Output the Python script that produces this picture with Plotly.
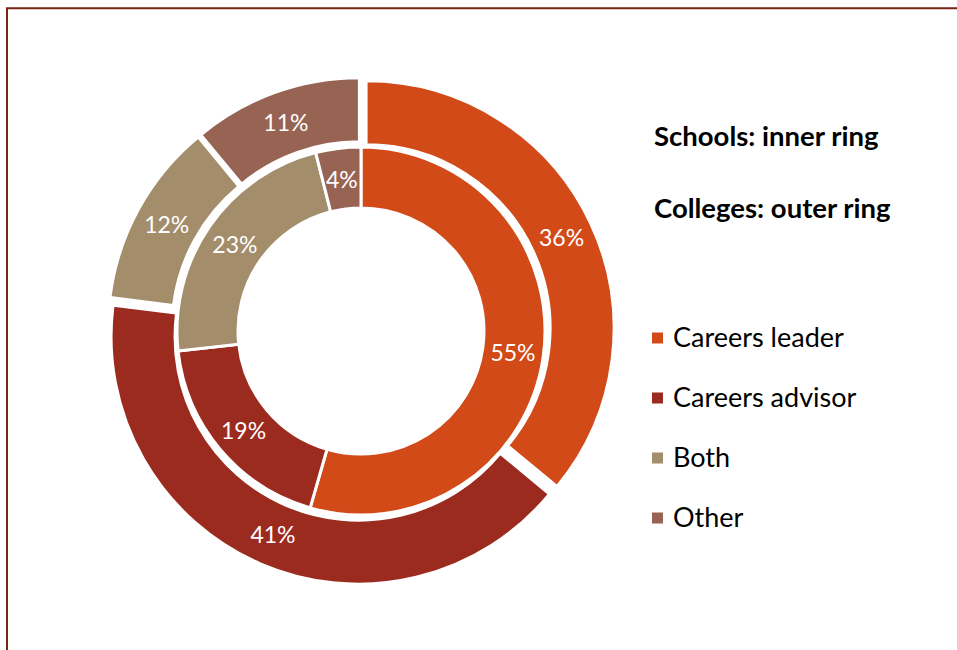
import math
import plotly.graph_objects as go

# Share of respondents by role
categories = ["Careers leader", "Careers advisor", "Both", "Other"]
schools_pct = [55, 19, 23, 4]     # inner ring
colleges_pct = [36, 41, 12, 11]   # outer ring
colors = ["#D24A18", "#9C2B1F", "#A38D6B", "#976353"]

ring_titles = ["Schools: inner ring", "Colleges: outer ring"]

W, H = 957, 650


def px(x):
    return x / W


def py(y):
    return 1 - y / H


cx, cy = 361, 331          # ring centre in pixels
outer_r, outer_pull = 247, 0.025
inner_r, inner_hole_r = 184, 123
outer_hole_r = 184

ox = outer_r * (1 + outer_pull)

label_font = dict(family="Lato", size=23, color="white")

# Slices too narrow for plotly's inside text keep full-size labels as annotations
min_inside_pct = 8
inner_textpos = ["inside" if v >= min_inside_pct else "none" for v in schools_pct]

fig = go.Figure()

fig.add_trace(go.Pie(
    labels=categories,
    values=colleges_pct,
    sort=False,
    direction="clockwise",
    rotation=0,
    hole=outer_hole_r / outer_r,
    pull=[outer_pull] * len(colleges_pct),
    marker=dict(colors=colors, line=dict(color="white", width=2)),
    texttemplate="%{value}%",
    textposition="inside",
    insidetextorientation="horizontal",
    textfont=label_font,
    domain=dict(x=[px(cx - ox), px(cx + ox)], y=[py(cy + ox), py(cy - ox)]),
    showlegend=False,
    hoverinfo="label+value",
))

fig.add_trace(go.Pie(
    labels=categories,
    values=schools_pct,
    sort=False,
    direction="clockwise",
    rotation=0,
    hole=inner_hole_r / inner_r,
    marker=dict(colors=colors, line=dict(color="white", width=3)),
    texttemplate="%{value}%",
    textposition=inner_textpos,
    insidetextorientation="horizontal",
    textfont=label_font,
    domain=dict(x=[px(cx - inner_r), px(cx + inner_r)],
                y=[py(cy + inner_r), py(cy - inner_r)]),
    showlegend=False,
    hoverinfo="label+value",
))

annotations = []
shapes = []

# Labels for narrow inner slices, at the slice's mid-angle and mid-radius
total = sum(schools_pct)
cum = 0
mid_r = (inner_r + inner_hole_r) / 2
for v, pos in zip(schools_pct, inner_textpos):
    theta = 2 * math.pi * (cum + v / 2) / total
    cum += v
    if pos != "none":
        continue
    annotations.append(dict(
        x=px(cx + mid_r * math.sin(theta)), y=py(cy - mid_r * math.cos(theta)),
        xref="paper", yref="paper", text=f"{v}%", showarrow=False,
        xanchor="center", yanchor="middle", font=label_font,
    ))

# Ring titles
for i, t in enumerate(ring_titles):
    annotations.append(dict(
        x=px(652), y=py(135 + i * 72), xref="paper", yref="paper",
        text=f"<b>{t}</b>", showarrow=False, xanchor="left", yanchor="middle",
        font=dict(family="Lato", size=27.5, color="#000000"),
    ))

# Legend: colour squares with category names
for i, (cat, col) in enumerate(zip(categories, colors)):
    yc = 338 + i * 60
    shapes.append(dict(
        type="rect", xref="paper", yref="paper",
        x0=px(652), x1=px(663), y0=py(yc + 5.5), y1=py(yc - 5.5),
        fillcolor=col, line=dict(width=0),
    ))
    annotations.append(dict(
        x=px(671), y=py(yc - 1.5), xref="paper", yref="paper",
        text=cat, showarrow=False, xanchor="left", yanchor="middle",
        font=dict(family="Lato", size=27, color="#000000"),
    ))

# Chart-area frame
shapes.append(dict(
    type="rect", xref="paper", yref="paper",
    x0=px(7), x1=1.1, y0=-0.1, y1=py(8.3),
    line=dict(color="#7B2416", width=2), fillcolor="rgba(0,0,0,0)",
    layer="above",
))

fig.update_layout(
    width=W, height=H,
    margin=dict(l=0, r=0, t=0, b=0),
    paper_bgcolor="white",
    plot_bgcolor="white",
    annotations=annotations,
    shapes=shapes,
)

fig.write_html("out.html")
